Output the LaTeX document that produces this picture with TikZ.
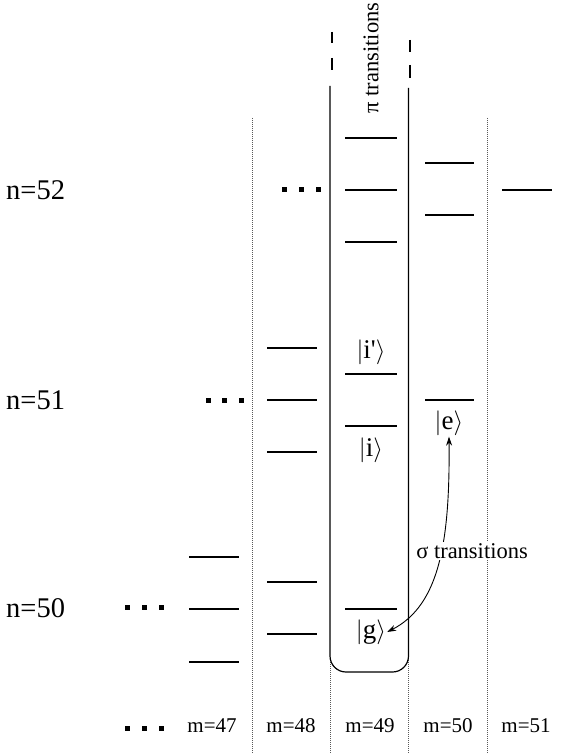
\documentclass[tikz,border=0pt]{standalone}
\usepackage{fontspec}
\setmainfont{Liberation Serif}
\usetikzlibrary{arrows.meta}
\begin{document}
\begin{tikzpicture}[x=1pt,y=-1pt,
  lvl/.style={line width=2.3pt},
  dotsep/.style={gray!70!black,line width=0.8pt,dash pattern=on 1pt off 1pt},
  boxline/.style={line width=1.2pt},
  dashline/.style={line width=2pt},
  sq/.style={fill=black,minimum size=5pt,inner sep=0pt},
  nlab/.style={font=\fontsize{28.5}{30}\selectfont,anchor=west,inner sep=0pt},
  mlab/.style={font=\fontsize{21}{23}\selectfont,inner sep=0pt},
  ket/.style={font=\fontsize{27}{29}\selectfont,inner sep=1pt},
  trans/.style={font=\fontsize{22.5}{24}\selectfont}]
\useasboundingbox (0,0) rectangle (564,754);
% dotted column separators
\foreach \x in {252,330,408.5,487}
  \draw[dotsep] (\x,118) -- (\x,754);
% pi transition box
\draw[boxline,rounded corners=16pt,fill=white] (330,86) -- (330,672) -- (408.5,672) -- (408.5,88);
\draw[dashline] (331.5,32) -- (331.5,43) (331.5,58) -- (331.5,70);
\draw[dashline] (409.5,40) -- (409.5,52) (409.5,65) -- (409.5,78);
\node[trans,rotate=90,inner sep=0pt] (pit) at (371,58) {π transitions};
% levels m=49
\foreach \y in {138,190,242,374,426,609}
  \draw[lvl] (345,\y) -- (397,\y);
% m=50
\foreach \y in {163,215,400}
  \draw[lvl] (425,\y) -- (474,\y);
% m=51
\draw[lvl] (502,190) -- (552,190);
% m=48
\foreach \y in {348,400,452,582,634}
  \draw[lvl] (267,\y) -- (317,\y);
% m=47
\foreach \y in {557,609,662}
  \draw[lvl] (189,\y) -- (239,\y);
% dots
\foreach \x in {284,301,318} \node[sq] at (\x,189) {};
\foreach \x in {208,224,241} \node[sq] at (\x,400) {};
\foreach \x in {127,144,161} \node[sq] at (\x,607) {};
\foreach \x in {127,144,161} \node[sq] at (\x,728) {};
% n labels
\node[nlab] (n52) at (6,190) {n=52};
\node[nlab] (n51) at (6,400) {n=51};
\node[nlab] (n50) at (6,608) {n=50};
% m labels
\node[mlab] (m47) at (212,726) {m=47};
\node[mlab] (m48) at (291,726) {m=48};
\node[mlab] (m49) at (370,726) {m=49};
\node[mlab] (m50) at (448,726) {m=50};
\node[mlab] (m51) at (526,726) {m=51};
% kets
\node[ket] (ip) at (371,352) {$|$i\textquotesingle$\rangle$};
\node[ket] (i) at (371,450) {$|$i$\rangle$};
\node[ket] (e) at (449,423) {$|$e$\rangle$};
\node[ket] (g) at (371,632) {$|$g$\rangle$};
% sigma transitions
\draw[line width=0.9pt,{Stealth[length=9pt,width=6pt]}-{Stealth[length=9pt,width=6pt]}]
  (e.south) .. controls (450,540) and (440,605) .. (g.east);
\node[trans,fill=white,inner sep=1pt] (sig) at (472,551) {σ transitions};
\end{tikzpicture}
\end{document}
